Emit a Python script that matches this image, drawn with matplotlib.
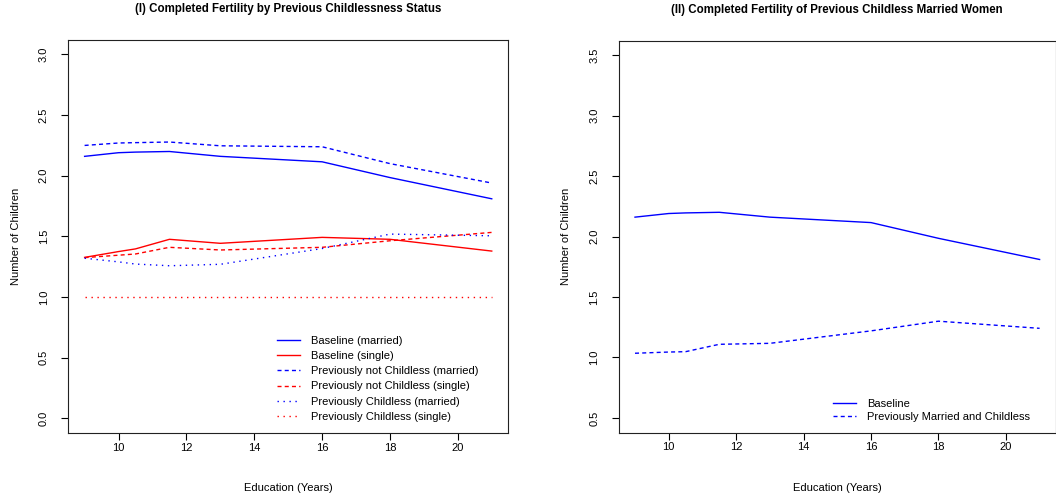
import numpy as np
import matplotlib
matplotlib.use("Agg")
import matplotlib.pyplot as plt

plt.rcParams['font.family'] = ['Liberation Sans', 'DejaVu Sans']
plt.rcParams['lines.scale_dashes'] = False

# years of education
educ = [9, 10, 10.5, 11.5, 13, 16, 18, 21]

# panel I: completed fertility by previous childlessness status
base_married = [2.16, 2.19, 2.195, 2.20, 2.16, 2.115, 1.985, 1.81]
base_single = [1.327, 1.375, 1.397, 1.476, 1.443, 1.492, 1.476, 1.379]
notchl_married = [2.25, 2.27, 2.273, 2.278, 2.247, 2.239, 2.10, 1.94]
notchl_single = [1.325, 1.345, 1.355, 1.41, 1.388, 1.41, 1.464, 1.533]
chl_married = [1.32, 1.29, 1.272, 1.258, 1.27, 1.40, 1.519, 1.505]
chl_single = [1.0, 1.0, 1.0, 1.0, 1.0, 1.0, 1.0, 1.0]

# panel II: previously childless married women
base2 = base_married
prev_married_chl = [1.035, 1.045, 1.048, 1.109, 1.117, 1.22, 1.30, 1.241]

DASH = (2.9, 2.3)
DOT = (1.0, 3.3)
LW = 1.0


def style(ax, ylim, yticks):
    ax.set_xlim(9 - 0.48, 21 + 0.48)
    span = ylim[1] - ylim[0]
    ax.set_ylim(ylim[0] - 0.04 * span, ylim[1] + 0.04 * span)
    ax.set_xticks([10, 12, 14, 16, 18, 20])
    ax.set_yticks(yticks)
    ax.set_yticklabels(["%.1f" % t for t in yticks], rotation=90, va='center')
    ax.tick_params(axis='both', direction='out', length=5, width=0.8,
                   labelsize=8, colors='black')
    ax.tick_params(axis='x', pad=2)
    ax.tick_params(axis='y', pad=9)
    for s in ax.spines.values():
        s.set_linewidth(0.8)
        s.set_color('#222222')
    ax.set_xlabel("Education (Years)", fontsize=8, labelpad=22)
    ax.set_ylabel("Number of Children", fontsize=8, labelpad=13)


fig = plt.figure(figsize=(10.56, 5.0), dpi=100)
ax1 = fig.add_axes([0.0647, 0.1342, 0.4164, 0.786])
ax2 = fig.add_axes([0.5860, 0.1350, 0.4138, 0.784])

ax1.plot(educ, base_married, color='blue', lw=LW, label="Baseline (married)")
ax1.plot(educ, base_single, color='red', lw=LW, label="Baseline (single)")
ax1.plot(educ, notchl_married, color='blue', lw=LW, dashes=DASH,
         label="Previously not Childless (married)")
ax1.plot(educ, notchl_single, color='red', lw=LW, dashes=DASH,
         label="Previously not Childless (single)")
ax1.plot(educ, chl_married, color='blue', lw=LW, dashes=DOT,
         label="Previously Childless (married)")
ax1.plot(educ, chl_single, color='red', lw=LW, dashes=DOT,
         label="Previously Childless (single)")
style(ax1, (0, 3), np.arange(0, 3.01, 0.5))
ax1.set_title("(I) Completed Fertility by Previous Childlessness Status",
              fontsize=8.3, fontweight='bold', pad=20)
ax1.legend(loc='lower left', bbox_to_anchor=(0.474, 0.028), frameon=False,
           fontsize=8, borderpad=0, borderaxespad=0, handlelength=2.1,
           handletextpad=1.0, labelspacing=0.47)

ax2.plot(educ, base2, color='blue', lw=LW, label="Baseline")
ax2.plot(educ, prev_married_chl, color='blue', lw=LW, dashes=DASH,
         label="Previously Married and Childless")
style(ax2, (0.5, 3.5), np.arange(0.5, 3.51, 0.5))
ax2.set_title("(II) Completed Fertility of Previous Childless Married Women",
              fontsize=8.3, fontweight='bold', pad=20)
ax2.legend(loc='lower left', bbox_to_anchor=(0.49, 0.026), frameon=False,
           fontsize=8, borderpad=0, borderaxespad=0, handlelength=2.1,
           handletextpad=1.0, labelspacing=0.33)

fig.savefig("out.png", dpi=100)
